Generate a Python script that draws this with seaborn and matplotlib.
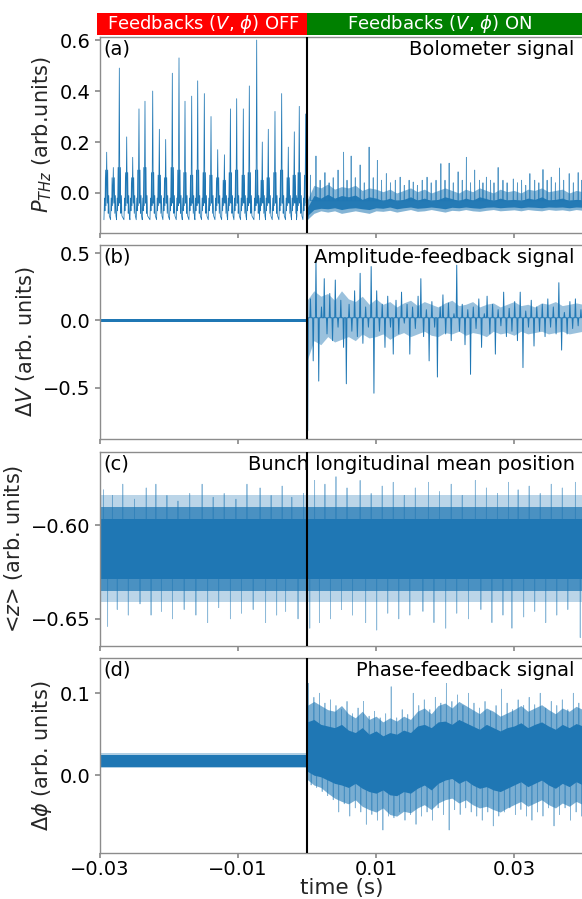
import numpy as np
import matplotlib
matplotlib.use("Agg")
import matplotlib.pyplot as plt
import seaborn as sns
from matplotlib.patches import Rectangle

# ------------------------------------------------------------------ data
# (a) Bolometer signal, feedbacks OFF: spike times (s), spike heights, hump tops
a_off_peak_t = [-0.02903, -0.02807, -0.02720, -0.02613, -0.02526, -0.02435, -0.02348, -0.02236,
                -0.02140, -0.02048, -0.01952, -0.01855, -0.01768, -0.01671, -0.01584, -0.01488,
                -0.01391, -0.01294, -0.01197, -0.01110, -0.01019, -0.00923, -0.00836, -0.00729,
                -0.00648, -0.00561, -0.00464, -0.00367, -0.00271, -0.00184, -0.00112, -0.00019]
a_off_peak_v = [0.16, 0.10, 0.49, 0.22, 0.14, 0.33, 0.36, 0.40, 0.25, 0.21, 0.47, 0.53, 0.36, 0.38,
                0.44, 0.39, 0.30, 0.17, 0.15, 0.33, 0.37, 0.33, 0.42, 0.60, 0.20, 0.25, 0.32, 0.39,
                0.18, 0.24, 0.34, 0.31]
a_off_hump_v = [0.09, 0.06, 0.10, 0.08, 0.06, 0.09, 0.10, 0.08, 0.07, 0.06, 0.10, 0.09, 0.08, 0.07,
                0.09, 0.08, 0.07, 0.06, 0.05, 0.08, 0.09, 0.07, 0.08, 0.09, 0.05, 0.06, 0.08, 0.09,
                0.06, 0.07, 0.08, 0.07]
a_off_trough = -0.105

# (a) feedbacks ON: spikes above the noise band
a_on_base = -0.03
a_on_spike_t = [0.0005, 0.0013, 0.0019, 0.0026, 0.0032, 0.0038, 0.0045, 0.0053, 0.0058, 0.0064,
                0.0070, 0.0077, 0.0083, 0.0090, 0.0096, 0.0102, 0.0108, 0.0115, 0.0121, 0.0128,
                0.0135, 0.0141, 0.0148, 0.0154, 0.0160, 0.0167, 0.0174, 0.0180, 0.0187, 0.0194,
                0.0200, 0.0206, 0.0212, 0.0219, 0.0225, 0.0231, 0.0237, 0.0243, 0.0250, 0.0255,
                0.0260, 0.0266, 0.0271, 0.0277, 0.0284, 0.0290, 0.0299, 0.0305, 0.0311, 0.0317,
                0.0323, 0.0330, 0.0336, 0.0342, 0.0348, 0.0354, 0.0360, 0.0366, 0.0372, 0.0380,
                0.0386, 0.0393, 0.0398]
a_on_spike_v = [0.07, 0.145, 0.05, 0.08, 0.04, 0.06, 0.09, 0.16, 0.05, 0.145,
                0.06, 0.11, 0.04, 0.18, 0.06, 0.128, 0.05, 0.076, 0.04, 0.05,
                0.062, 0.03, 0.05, 0.043, 0.03, 0.05, 0.062, 0.04, 0.05, 0.115,
                0.05, 0.117, 0.04, 0.083, 0.05, 0.14, 0.04, 0.09, 0.05, 0.04,
                0.062, 0.05, 0.04, 0.10, 0.05, 0.04, 0.055, 0.04, 0.05, 0.03,
                0.076, 0.05, 0.04, 0.092, 0.05, 0.062, 0.04, 0.098, 0.05, 0.076,
                0.04, 0.08, 0.05]
# noise-band envelopes, sampled every 1 ms from t = 0 to 0.04 s
a_env_hi = [-0.03, 0.03, 0.02, 0.035, 0.015, 0.025, 0.02, 0.03, 0.01, 0.02, 0.015, 0.005, 0.015, 0.0,
            0.01, 0.02, 0.005, 0.015, 0.0, 0.01, 0.02, 0.01, 0.0, 0.015, 0.005, 0.02, 0.01, 0.0,
            0.015, 0.005, 0.01, 0.0, 0.015, 0.01, 0.02, 0.005, 0.01, 0.015, 0.0, 0.01, 0.005]
a_env_lo = [-0.105, -0.08, -0.07, -0.075, -0.07, -0.08, -0.075, -0.07, -0.075, -0.08, -0.07, -0.072,
            -0.068, -0.075, -0.07, -0.065, -0.072, -0.07, -0.065, -0.07, -0.075, -0.068, -0.07,
            -0.065, -0.07, -0.072, -0.068, -0.065, -0.07, -0.068, -0.066, -0.07, -0.065, -0.068,
            -0.07, -0.065, -0.068, -0.066, -0.07, -0.065, -0.068]
a_core_hi = [-0.06, -0.01, -0.02, -0.005, -0.02, -0.01, -0.015, -0.008, -0.025, -0.015, -0.02, -0.03,
             -0.02, -0.03, -0.025, -0.015, -0.028, -0.02, -0.03, -0.025, -0.015, -0.022, -0.03,
             -0.02, -0.028, -0.015, -0.022, -0.03, -0.02, -0.028, -0.025, -0.03, -0.02, -0.025,
             -0.015, -0.028, -0.025, -0.02, -0.03, -0.025, -0.028]
a_core_lo = [-0.09, -0.065, -0.06, -0.062, -0.058, -0.065, -0.06, -0.058, -0.062, -0.065, -0.058,
             -0.06, -0.055, -0.062, -0.058, -0.055, -0.06, -0.058, -0.055, -0.058, -0.062, -0.056,
             -0.058, -0.055, -0.058, -0.06, -0.056, -0.055, -0.058, -0.056, -0.055, -0.058, -0.055,
             -0.056, -0.058, -0.055, -0.056, -0.055, -0.058, -0.055, -0.056]

# (b) Amplitude-feedback signal
b_off_band = [-0.010, 0.012]
b_center = 0.02
b_on_step = 0.0004
b_on_v = [-0.82, 0.16, -0.30, 0.44, -0.45, 0.10, 0.31, -0.10, 0.20, -0.15,
          0.30, -0.05, 0.15, -0.20, -0.47, 0.12, -0.08, 0.22, -0.12, 0.35,
          -0.17, 0.10, -0.05, 0.40, -0.54, 0.22, -0.08, 0.12, -0.20, 0.18,
          -0.05, -0.25, 0.15, -0.10, 0.21, -0.02, 0.12, -0.25, 0.10, -0.06,
          0.18, 0.31, -0.12, 0.08, -0.30, 0.14, -0.05, -0.42, 0.10, 0.19,
          -0.10, 0.13, -0.15, 0.05, 0.41, -0.08, 0.12, -0.18, 0.08, -0.40,
          0.10, -0.06, 0.16, -0.20, 0.05, 0.18, -0.10, 0.12, -0.25, 0.08,
          -0.04, 0.21, -0.12, 0.09, -0.08, 0.14, -0.15, 0.21, -0.35, 0.07,
          -0.05, 0.15, -0.19, 0.10, -0.08, 0.12, -0.12, 0.16, -0.05, 0.10,
          -0.10, 0.28, -0.22, 0.06, -0.10, 0.14, -0.06, 0.16, -0.04, 0.08]
b_env_hi = [0.15, 0.22, 0.18, 0.20, 0.15, 0.22, 0.16, 0.14, 0.18, 0.12, 0.16, 0.12, 0.14, 0.10,
            0.13, 0.15, 0.11, 0.14, 0.12, 0.10, 0.13, 0.15, 0.11, 0.12, 0.14, 0.10, 0.12, 0.13,
            0.10, 0.12, 0.14, 0.11, 0.12, 0.10, 0.13, 0.12, 0.14, 0.11, 0.12, 0.13, 0.12]
b_env_lo = [-0.30, -0.15, -0.18, -0.12, -0.16, -0.14, -0.12, -0.15, -0.10, -0.13, -0.12, -0.10,
            -0.14, -0.11, -0.09, -0.12, -0.10, -0.08, -0.11, -0.12, -0.09, -0.10, -0.08, -0.11,
            -0.09, -0.10, -0.12, -0.08, -0.10, -0.09, -0.11, -0.08, -0.10, -0.09, -0.08, -0.10,
            -0.09, -0.08, -0.10, -0.09, -0.08]

# (c) Bunch longitudinal mean position
c_center = -0.612
c_core = [-0.6285, -0.5965]
c_mid = [-0.635, -0.590]
c_outer = [-0.641, -0.584]
c_spike_t = [-0.0295, -0.0289, -0.0282, -0.0275, -0.0267, -0.0259, -0.0250, -0.0242, -0.0233, -0.0226,
             -0.0219, -0.0211, -0.0203, -0.0195, -0.0187, -0.0178, -0.0170, -0.0161, -0.0152, -0.0144,
             -0.0136, -0.0128, -0.0120, -0.0111, -0.0103, -0.0095, -0.0087, -0.0078, -0.0068, -0.0060,
             -0.0052, -0.0044, -0.0036, -0.0031, -0.0022, -0.0013, -0.0005, 0.0004, 0.0011, 0.0018,
             0.0026, 0.0034, 0.0042, 0.0050, 0.0058, 0.0066, 0.0077, 0.0085, 0.0093, 0.0101,
             0.0109, 0.0117, 0.0125, 0.0133, 0.0141, 0.0149, 0.0157, 0.0168, 0.0176, 0.0184,
             0.0192, 0.0201, 0.0209, 0.0217, 0.0225, 0.0234, 0.0244, 0.0252, 0.0260, 0.0268,
             0.0276, 0.0284, 0.0292, 0.0297, 0.0306, 0.0314, 0.0322, 0.0330, 0.0338, 0.0346,
             0.0354, 0.0362, 0.0370, 0.0378, 0.0389, 0.0396]
c_spike_v = [-0.581, -0.654, -0.584, -0.645, -0.578, -0.648, -0.586, -0.642, -0.580, -0.648,
             -0.578, -0.646, -0.584, -0.650, -0.587, -0.645, -0.583, -0.648, -0.578, -0.652,
             -0.585, -0.644, -0.583, -0.650, -0.586, -0.647, -0.578, -0.645, -0.580, -0.652,
             -0.584, -0.648, -0.579, -0.646, -0.585, -0.650, -0.583, -0.655, -0.576, -0.652,
             -0.578, -0.650, -0.574, -0.645, -0.580, -0.648, -0.576, -0.652, -0.583, -0.656,
             -0.579, -0.647, -0.577, -0.650, -0.584, -0.648, -0.580, -0.646, -0.577, -0.652,
             -0.582, -0.655, -0.578, -0.647, -0.584, -0.650, -0.576, -0.645, -0.580, -0.652,
             -0.583, -0.648, -0.577, -0.655, -0.581, -0.649, -0.579, -0.646, -0.583, -0.652,
             -0.578, -0.648, -0.580, -0.645, -0.577, -0.660]

# (d) Phase-feedback signal
d_off_band = [0.010, 0.025]
d_off_fringe = [0.0085, 0.027]
d_center = 0.025
d_out_hi = [0.085, 0.09, 0.085, 0.08, 0.078, 0.085, 0.075, 0.07, 0.078, 0.068, 0.072, 0.065, 0.07,
            0.066, 0.072, 0.068, 0.078, 0.082, 0.075, 0.085, 0.088, 0.082, 0.09, 0.085, 0.08, 0.075,
            0.082, 0.078, 0.072, 0.076, 0.08, 0.085, 0.078, 0.082, 0.086, 0.08, 0.075, 0.082, 0.078,
            0.084, 0.08]
d_out_lo = [-0.005, -0.012, -0.015, -0.022, -0.028, -0.032, -0.035, -0.03, -0.038, -0.042, -0.045,
            -0.04, -0.048, -0.05, -0.044, -0.046, -0.04, -0.036, -0.042, -0.034, -0.03, -0.028,
            -0.034, -0.03, -0.036, -0.04, -0.038, -0.042, -0.045, -0.04, -0.036, -0.032, -0.038,
            -0.034, -0.03, -0.036, -0.04, -0.034, -0.038, -0.032, -0.036]
d_core_hi = [0.065, 0.068, 0.062, 0.060, 0.058, 0.062, 0.055, 0.052, 0.058, 0.05, 0.054, 0.048,
             0.052, 0.05, 0.055, 0.052, 0.06, 0.062, 0.058, 0.065, 0.066, 0.062, 0.068, 0.064, 0.06,
             0.056, 0.062, 0.058, 0.054, 0.058, 0.06, 0.064, 0.058, 0.062, 0.065, 0.06, 0.056,
             0.062, 0.058, 0.063, 0.06]
d_core_lo = [0.005, 0.0, -0.002, -0.006, -0.01, -0.012, -0.015, -0.01, -0.016, -0.02, -0.022,
             -0.018, -0.024, -0.025, -0.02, -0.022, -0.016, -0.012, -0.018, -0.01, -0.006, -0.004,
             -0.01, -0.006, -0.012, -0.016, -0.014, -0.018, -0.02, -0.016, -0.012, -0.008, -0.014,
             -0.01, -0.006, -0.012, -0.016, -0.01, -0.014, -0.008, -0.012]
d_on_step = 0.0004
d_on_v = [0.112, -0.012, 0.095, -0.015, 0.100, -0.020, 0.088, -0.025, 0.092, -0.030,
          0.085, -0.045, 0.080, -0.035, 0.090, -0.050, 0.075, -0.040, 0.082, -0.045,
          0.090, -0.060, 0.072, -0.048, 0.078, -0.055, 0.070, -0.067, 0.075, -0.050,
          0.108, -0.052, 0.070, -0.045, 0.080, -0.055, 0.074, -0.048, 0.100, -0.060,
          0.085, -0.050, 0.092, -0.045, 0.080, -0.055, 0.095, -0.040, 0.088, -0.048,
          0.112, -0.067, 0.090, -0.042, 0.098, -0.048, 0.085, -0.040, 0.100, -0.045,
          0.088, -0.050, 0.082, -0.055, 0.090, -0.045, 0.078, -0.062, 0.085, -0.050,
          0.105, -0.045, 0.088, -0.040, 0.080, -0.048, 0.092, -0.042, 0.085, -0.050,
          0.095, -0.055, 0.086, -0.045, 0.100, -0.050, 0.082, -0.040, 0.090, -0.062,
          0.085, -0.048, 0.092, -0.040, 0.080, -0.055, 0.100, -0.045, 0.088, -0.050]

env_t = np.linspace(0.0, 0.04, 41)   # 1 ms sampling of the envelopes

x_ticks = [-0.03, -0.01, 0.01, 0.03]
x_ticklabels = ["\u22120.03", "\u22120.01", "0.01", "0.03"]
x_lim = (-0.03, 0.04)
panel_tags = ["(a)", "(b)", "(c)", "(d)"]
panel_titles = ["Bolometer signal", "Amplitude-feedback signal",
                "Bunch longitudinal mean position", "Phase-feedback signal"]
y_labels = [r"$P_{THz}$ (arb.units)", r"$\Delta V$ (arb. units)",
            r"<$z$> (arb. units)", r"$\Delta\phi$ (arb. units)"]
y_ticks = [[0.0, 0.2, 0.4, 0.6], [-0.5, 0.0, 0.5], [-0.65, -0.60], [0.0, 0.1]]
y_ticklabels = [["0.0", "0.2", "0.4", "0.6"], ["\u22120.5", "0.0", "0.5"],
                ["\u22120.65", "\u22120.60"], ["0.0", "0.1"]]
y_lims = [(-0.157, 0.612), (-0.88, 0.56), (-0.6645, -0.5608), (-0.095, 0.143)]
header_labels = [r"Feedbacks ($V$, $\phi$) OFF", r"Feedbacks ($V$, $\phi$) ON"]

# ------------------------------------------------------------------ style
sns.set_theme(style="ticks")
plt.rcParams.update({
    "font.family": ["DejaVu Sans"],
    "axes.edgecolor": "0.55",
    "axes.linewidth": 1.0,
    "xtick.color": "0.55",
    "ytick.color": "0.55",
    "xtick.labelcolor": "black",
    "ytick.labelcolor": "black",
    "xtick.labelsize": 14,
    "ytick.labelsize": 14,
    "xtick.major.size": 3.5,
    "ytick.major.size": 3.5,
    "xtick.major.pad": 1.5,
})
C = "#1f77b4"


def strokes(ts, vs, base, half=0.00004):
    """Narrow up/down strokes from a base level to each read value."""
    xs, ys = [], []
    for t, v in zip(ts, vs):
        xs += [t - half, t, t + half]
        ys += [base, v, base]
    return xs, ys


W, H = 582, 899
fig = plt.figure(figsize=(W / 100, H / 100), dpi=100)
rows = [(37, 233), (245, 439), (452, 646), (658, 853)]
axes = [fig.add_axes([100 / W, 1 - bot / H, 483 / W, (bot - top) / H]) for top, bot in rows]

# ---- (a)
ax = axes[0]
tpl_dt = [-0.00040, -0.00032, -0.00025, -0.00018, -0.00010, 0.0, 0.00008, 0.00015, 0.00022, 0.00030, 0.00038]
off_t, off_v = [], []
for tp, pv, hv in zip(a_off_peak_t, a_off_peak_v, a_off_hump_v):
    off_t += [max(tp + d, -0.03) for d in tpl_dt]
    off_v += [a_off_trough, -0.02, -0.07, hv, -0.05, pv, -0.04, hv, -0.08, -0.01, -0.09]
off_t += [0.0001]
off_v += [a_off_trough]
sns.lineplot(x=off_t, y=off_v, ax=ax, color=C, lw=0.55, estimator=None, sort=False)
ax.fill_between(env_t, a_env_lo, a_env_hi, color=C, alpha=0.55, lw=0)
ax.fill_between(env_t, a_core_lo, a_core_hi, color=C, alpha=0.95, lw=0)
sx, sy = strokes(a_on_spike_t, a_on_spike_v, a_on_base)
sns.lineplot(x=sx, y=sy, ax=ax, color=C, lw=0.6, alpha=0.75, estimator=None, sort=False)

# ---- (b)
ax = axes[1]
ax.fill_between([-0.03, 0.0], [b_off_band[0]] * 2, [b_off_band[1]] * 2, color=C, lw=0)
ax.fill_between(env_t, b_env_lo, b_env_hi, color=C, alpha=0.45, lw=0)
b_on_t = [i * b_on_step + 0.0001 for i in range(len(b_on_v))]
sx, sy = strokes(b_on_t, b_on_v, b_center, half=0.00008)
sns.lineplot(x=[0.0] + sx, y=[0.0] + sy, ax=ax, color=C, lw=0.7, estimator=None, sort=False)

# ---- (c)
ax = axes[2]
ax.axhspan(c_outer[0], c_outer[1], color=C, alpha=0.3, lw=0)
ax.axhspan(c_mid[0], c_mid[1], color=C, alpha=0.72, lw=0)
ax.axhspan(c_core[0], c_core[1], color=C, alpha=1.0, lw=0)
sx, sy = strokes(c_spike_t, c_spike_v, c_center, half=0.00002)
sns.lineplot(x=sx, y=sy, ax=ax, color=C, lw=0.6, alpha=0.5, estimator=None, sort=False)

# ---- (d)
ax = axes[3]
ax.fill_between([-0.03, 0.0], [d_off_fringe[0]] * 2, [d_off_fringe[1]] * 2, color=C, alpha=0.35, lw=0)
ax.fill_between([-0.03, 0.0], [d_off_band[0]] * 2, [d_off_band[1]] * 2, color=C, lw=0)
ax.fill_between(env_t, d_out_lo, d_out_hi, color=C, alpha=0.6, lw=0)
ax.fill_between(env_t, d_core_lo, d_core_hi, color=C, alpha=1.0, lw=0)
d_on_t = [i * d_on_step + 0.0002 for i in range(len(d_on_v))]
sx, sy = strokes(d_on_t, d_on_v, d_center, half=0.00003)
sns.lineplot(x=sx, y=sy, ax=ax, color=C, lw=0.55, alpha=0.55, estimator=None, sort=False)

# ---- common formatting
for i, ax in enumerate(axes):
    ax.axvline(0.0, color="black", lw=1.5, zorder=5)
    ax.set_xlim(*x_lim)
    ax.set_ylim(*y_lims[i])
    ax.set_xticks(x_ticks)
    ax.set_yticks(y_ticks[i])
    ax.set_yticklabels(y_ticklabels[i])
    ax.set_ylabel(y_labels[i], fontsize=15)
    if i < 3:
        ax.set_xticklabels([])
        ax.set_xlabel("")
    else:
        ax.set_xticklabels(x_ticklabels)
        ax.set_xlabel("time (s)", fontsize=15.5)
        ax.xaxis.set_label_coords(0.5, -0.128)
    ax.text(0.008, 0.985, panel_tags[i], transform=ax.transAxes, ha="left", va="top",
            fontsize=14, color="black", zorder=6)
    ax.text(0.983, 0.985, panel_titles[i], transform=ax.transAxes, ha="right", va="top",
            fontsize=14, color="black", zorder=6)
    for s in ax.spines.values():
        s.set_color("0.55")

# ---- header boxes
y0, y1 = 1 - 35 / H, 1 - 13 / H
fig.add_artist(Rectangle((97 / W, y0), (307 - 97) / W, y1 - y0, transform=fig.transFigure,
                         facecolor="red", edgecolor="none"))
fig.add_artist(Rectangle((307 / W, y0), (W - 307) / W, y1 - y0, transform=fig.transFigure,
                         facecolor="green", edgecolor="none"))
fig.text(203 / W, (y0 + y1) / 2, header_labels[0], color="white", fontsize=13, ha="center", va="center")
fig.text(440 / W, (y0 + y1) / 2, header_labels[1], color="white", fontsize=13, ha="center", va="center")

fig.savefig("out.png", dpi=100)
